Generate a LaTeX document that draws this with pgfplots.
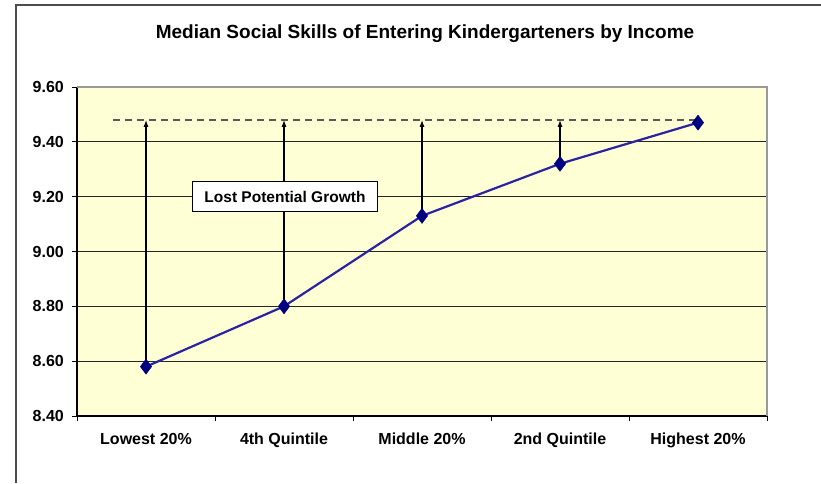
\documentclass[border=0pt]{standalone}
\usepackage{pgfplots}
\pgfplotsset{compat=1.18}
\usepackage{fontspec}
\setmainfont{Liberation Sans}
\usetikzlibrary{arrows.meta}
\definecolor{plotbg}{HTML}{FFFFD6}
\definecolor{linecol}{HTML}{2B23A0}
\definecolor{markcol}{HTML}{000080}
\begin{document}
\begin{tikzpicture}[x=1pt,y=1pt]
\useasboundingbox (0,0) rectangle (821,483);
\draw[line width=1.3pt, black!70] (16,0) -- (16,478) -- (821,478);
\node[font=\fontsize{19}{21}\selectfont\bfseries] at (425,449) {Median Social Skills of Entering Kindergarteners by Income};
\begin{axis}[
  at={(77pt,67pt)}, anchor=south west,
  width=690pt, height=329pt, scale only axis,
  xmin=-0.5, xmax=4.5, ymin=8.4, ymax=9.6,
  axis x line*=bottom, axis y line*=left,
  axis line style={black, line width=1.4pt},
  axis background/.style={fill=plotbg},
  xtick={0,1,2,3,4},
  xticklabels={Lowest 20\%, 4th Quintile, Middle 20\%, 2nd Quintile, Highest 20\%},
  major x tick style={draw=none},
  minor xtick={-0.5,0.5,1.5,2.5,3.5,4.5},
  minor x tick style={black, line width=1pt},
  ytick={8.4,8.6,8.8,9.0,9.2,9.4,9.6},
  ytick style={black, line width=1pt},
  tick align=outside,
  major tick length=5pt, minor tick length=5pt,
  ymajorgrids,
  grid style={black!85, line width=1.1pt},
  /pgf/number format/fixed, /pgf/number format/fixed zerofill, /pgf/number format/precision=2, /pgf/number format/assume math mode=true,
  ticklabel style={font=\fontsize{16}{18}\selectfont\bfseries},
  yticklabel style={inner sep=0pt, xshift=-8pt},
  xticklabel style={inner sep=0pt, yshift=-12pt},
  clip=false,
]
\draw[gray!80, line width=1.3pt] (rel axis cs:0,1) -- (rel axis cs:1,1) -- (rel axis cs:1,0);
\addplot[black!65, line width=1.3pt, dash pattern=on 7pt off 5pt] coordinates {(-0.24,9.48) (4,9.48)};
\addplot[black, line width=1.1pt, -{Latex[length=7pt,width=5pt]}] coordinates {(0,8.58) (0,9.48)};
\addplot[black, line width=1.1pt, -{Latex[length=7pt,width=5pt]}] coordinates {(1,8.80) (1,9.48)};
\addplot[black, line width=1.1pt, -{Latex[length=7pt,width=5pt]}] coordinates {(2,9.13) (2,9.48)};
\addplot[black, line width=1.1pt, -{Latex[length=7pt,width=5pt]}] coordinates {(3,9.32) (3,9.48)};
\addplot[linecol, line width=2.2pt, mark=diamond*, mark size=7.5pt, mark options={fill=markcol, draw=markcol, line width=0.5pt}]
  coordinates {(0,8.58) (1,8.80) (2,9.13) (3,9.32) (4,9.47)};
\node[draw=black, line width=1.1pt, fill=white, font=\fontsize{15.5}{17}\selectfont\bfseries, inner xsep=12pt, minimum height=30pt] at (axis cs:1.007,9.2) {Lost Potential Growth};
\end{axis}
\end{tikzpicture}
\end{document}
